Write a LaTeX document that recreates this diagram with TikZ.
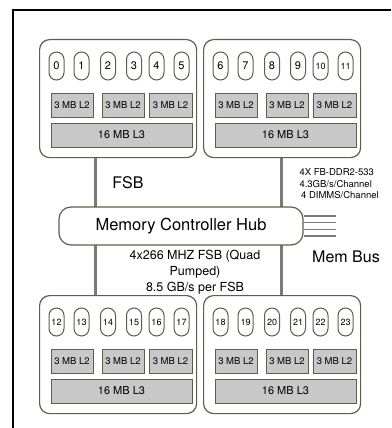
\documentclass[tikz,border=0pt]{standalone}
\usepackage{fontspec}
\setmainfont{TeX Gyre Heros}
\usepackage{tikz}

\definecolor{pkgline}{HTML}{5E5E4C}
\definecolor{cachefill}{HTML}{C8C8C8}
\definecolor{busgray}{HTML}{7A7A7A}

\newcommand{\fsz}[1]{\fontsize{#1}{#1}\selectfont}

\begin{document}
\begin{tikzpicture}[x=1pt,y=-1pt,
  pkg/.style={draw=pkgline,line width=1.2pt,fill=white,rounded corners=10pt,
    minimum width=157pt,minimum height=118pt,anchor=north west,inner sep=0pt},
  core/.style={draw=pkgline,line width=1pt,fill=white,rounded corners=7.5pt,
    minimum width=15pt,minimum height=28pt,inner sep=0pt},
  cache/.style={draw=pkgline,line width=1pt,fill=cachefill,
    minimum height=24pt,inner sep=0pt},
  fsb/.style={busgray,line width=3pt}]
\useasboundingbox (0,0) rectangle (391,428);
% outer frame
\draw[line width=1.2pt] (13,428) -- (13,10) -- (391,10);
% bus lines (behind the hub)
\coordinate (busL) at (95,0);
\coordinate (busR) at (281,0);
% packages
\foreach \px/\py/\first in {39/39/0,203/39/6,39/295/12,203/295/18}{
  \node[pkg] (pkg\first) at (\px,\py) {};
  \foreach \cx [count=\i from 0] in {17.5,42.5,69,95,117.5,142.5}{
    \pgfmathtruncatemacro\cn{\first+\i}
    \node[core,font={\ifnum\cn>9 \fsz{9}\else\fsz{11}\fi}] (core\cn) at (\px+\cx,\py+27) {\cn};
  }
  \foreach \lx/\lw [count=\i] in {33/42,84/42,131.5/43}{
    \node[cache,minimum width=\lw pt,font=\fsz{9.5}] (l2-\first-\i) at (\px+\lx,\py+66) {3 MB L2};
  }
  \node[cache,minimum width=141pt,font=\fsz{11}] (l3-\first) at (\px+82.5,\py+96) {16 MB L3};
}
\draw[fsb] (pkg0.south -| busL) -- (pkg12.north -| busL);
\draw[fsb] (pkg6.south -| busR) -- (pkg18.north -| busR);
% memory controller hub
\node[draw=pkgline,line width=1.2pt,fill=white,rounded corners=12pt,
  minimum width=244pt,minimum height=38pt,font=\fsz{16.5}] (hub) at (181,226) {Memory Controller Hub};
\foreach \dy in {10,3.4,-3.4,-10}{
  \draw[busgray,line width=1.2pt] ([yshift=\dy pt]hub.east) -- ++(32,0);
}
% labels
\node[font=\fsz{16}] (fsblabel) at (128,183) {FSB};
\node[font=\fsz{16}] (membus) at (346,257) {Mem Bus};
\node[anchor=west,align=left,font=\fontsize{9.5}{11.5}\selectfont] (ddr) at (296,184)
  {4X FB-DDR2-533\\4.3GB/s/Channel\\\,4 DIMMS/Channel};
\node[align=center,font=\fontsize{12.5}{16}\selectfont] (fsbspeed) at (195,272)
  {4x266 MHZ FSB (Quad\\Pumped)\\8.5 GB/s per FSB};
\end{tikzpicture}
\end{document}
